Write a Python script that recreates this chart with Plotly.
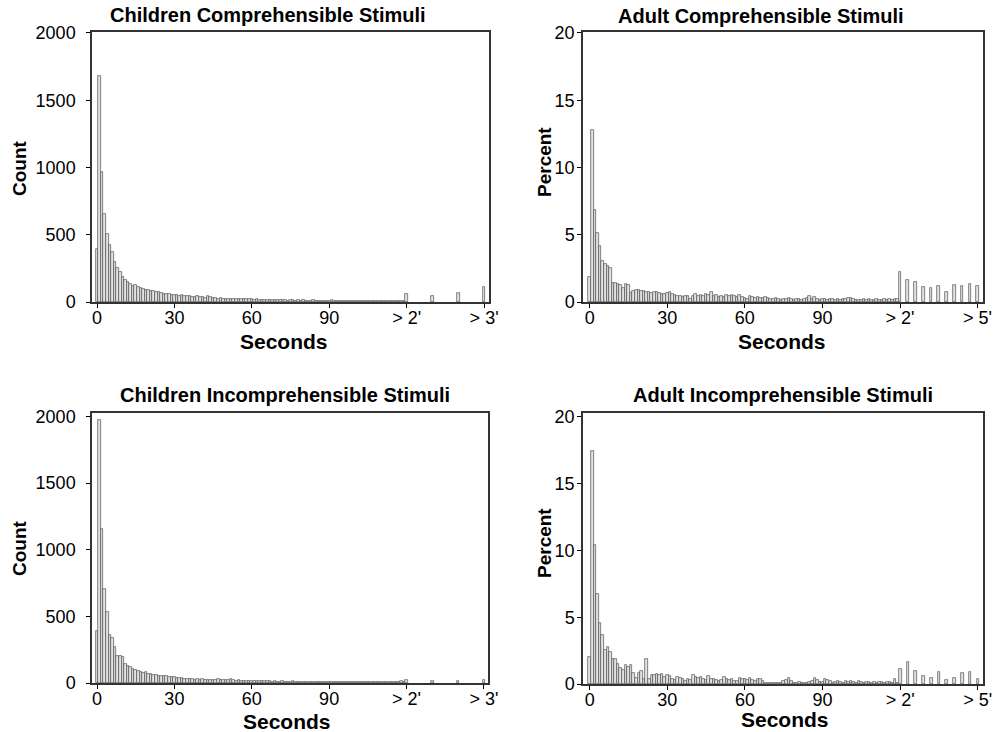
import plotly.graph_objects as go

# ---------------- data ----------------
bins = list(range(0, 120))                     # 1-second bins, 0..119 s
child_tail_bins = [120, 130, 140, 150]          # "> 2'" ... "> 3'"
adult_tail_bins = [120, 123, 126, 129, 132, 135, 138, 141, 144, 147, 150]  # "> 2'" ... "> 5'"

child_tick_text = ["0", "30", "60", "90", "> 2'", "> 3'"]
adult_tick_text = ["0", "30", "60", "90", "> 2'", "> 5'"]
x_tick_vals = [0, 30, 60, 90, 120, 150]

count_ticks = [0, 500, 1000, 1500, 2000]
percent_ticks = [0, 5, 10, 15, 20]

children_comp = [395, 1680, 968, 652, 508, 424, 368, 300, 255, 220,
                 185, 165, 148, 135, 122, 128, 112, 102, 95, 90,
                 88, 82, 80, 72, 75, 66, 62, 58, 60, 55,
                 52, 55, 48, 50, 44, 42, 45, 40, 38, 42,
                 36, 34, 30, 44, 35, 30, 28, 26, 27, 25,
                 24, 26, 22, 23, 21, 24, 20, 22, 19, 21,
                 20, 18, 19, 16, 17, 15, 14, 16, 13, 15,
                 14, 12, 15, 13, 11, 12, 14, 10, 12, 11,
                 13, 10, 11, 9, 12, 10, 9, 11, 8, 10,
                 9, 12, 8, 9, 10, 7, 9, 8, 10, 7,
                 8, 9, 7, 8, 6, 9, 7, 8, 6, 7,
                 8, 6, 7, 5, 7, 6, 8, 5, 6, 7]
children_comp_tail = [57, 48, 65, 112]

adult_comp = [1.86, 12.76, 6.82, 5.12, 4.2, 3.08, 2.8, 2.65, 2.55, 1.39,
              1.44, 1.31, 1.24, 1.07, 1.31, 1.26, 0.69, 0.82, 0.89, 0.87,
              0.82, 0.82, 0.77, 0.74, 0.69, 0.77, 0.71, 0.69, 0.62, 0.62,
              0.69, 0.77, 0.62, 0.55, 0.47, 0.42, 0.37, 0.42, 0.47, 0.25,
              0.45, 0.57, 0.47, 0.55, 0.42, 0.62, 0.5, 0.72, 0.45, 0.5,
              0.38, 0.42, 0.35, 0.52, 0.45, 0.55, 0.48, 0.4, 0.5, 0.35,
              0.3, 0.25, 0.45, 0.4, 0.3, 0.35, 0.28, 0.32, 0.38, 0.3,
              0.25, 0.2, 0.28, 0.22, 0.18, 0.25, 0.2, 0.28, 0.22, 0.15,
              0.2, 0.25, 0.18, 0.22, 0.3, 0.42, 0.2, 0.38, 0.25, 0.15,
              0.2, 0.22, 0.18, 0.25, 0.2, 0.15, 0.22, 0.18, 0.2, 0.25,
              0.3, 0.28, 0.2, 0.15, 0.18, 0.12, 0.2, 0.15, 0.22, 0.18,
              0.15, 0.2, 0.18, 0.15, 0.2, 0.17, 0.2, 0.18, 0.2, 0.22]
adult_comp_tail = [2.23, 1.66, 1.46, 1.12, 1.07, 1.21, 0.72, 1.24, 1.19, 1.31, 1.21]

children_incomp = [387, 1975, 1157, 707, 532, 362, 335, 267, 205, 200,
                   195, 142, 130, 120, 107, 100, 87, 80, 75, 80,
                   70, 67, 60, 60, 55, 52, 50, 50, 45, 42,
                   42, 37, 37, 35, 30, 32, 28, 30, 26, 28,
                   25, 27, 24, 22, 25, 26, 22, 30, 24, 20,
                   22, 25, 28, 20, 18, 19, 17, 18, 16, 15,
                   15, 14, 16, 13, 14, 12, 13, 12, 11, 12,
                   10, 11, 12, 9, 10, 11, 13, 9, 10, 8,
                   9, 10, 8, 9, 7, 10, 8, 7, 9, 8,
                   7, 9, 8, 6, 8, 7, 9, 7, 6, 8,
                   7, 8, 6, 7, 9, 6, 7, 5, 8, 6,
                   7, 6, 5, 7, 6, 8, 5, 6, 12, 7]
children_incomp_tail = [25, 12, 18, 25]

adult_incomp = [2.0, 17.4, 10.4, 6.75, 4.6, 3.7, 2.55, 2.75, 2.4, 1.85,
                1.85, 1.5, 1.2, 1.05, 1.4, 1.3, 1.4, 0.85, 0.45, 0.8,
                0.95, 0.35, 1.87, 0.35, 0.7, 0.7, 0.72, 0.7, 0.72, 0.55,
                0.65, 0.6, 0.4, 0.3, 0.55, 0.45, 0.4, 0.25, 0.35, 0.3,
                0.65, 0.55, 0.45, 0.5, 0.35, 0.3, 0.6, 0.4, 0.35, 0.3,
                0.25, 0.3, 0.5, 0.4, 0.3, 0.35, 0.25, 0.2, 0.45, 0.4,
                0.35, 0.3, 0.45, 0.3, 0.25, 0.4, 0.35, 0.2, 0.08, 0.05,
                0.06, 0.05, 0.08, 0.05, 0.1, 0.2, 0.3, 0.45, 0.2, 0.1,
                0.1, 0.15, 0.1, 0.05, 0.1, 0.15, 0.2, 0.45, 0.3, 0.15,
                0.15, 0.35, 0.3, 0.2, 0.1, 0.15, 0.2, 0.15, 0.1, 0.2,
                0.15, 0.2, 0.12, 0.1, 0.2, 0.15, 0.1, 0.12, 0.15, 0.1,
                0.12, 0.1, 0.15, 0.12, 0.1, 0.12, 0.15, 0.1, 0.35, 0.1]
adult_incomp_tail = [1.12, 1.67, 0.95, 0.6, 0.45, 0.88, 0.32, 0.45, 0.82, 0.9, 0.37]

titles = ["Children Comprehensible Stimuli", "Adult Comprehensible Stimuli",
          "Children Incomprehensible Stimuli", "Adult Incomprehensible Stimuli"]

# ---------------- figure ----------------
W, H = 997, 732
FONT = "Liberation Sans, Arial, sans-serif"
BAR_FILL = "#e2e2e2"
BAR_LINE = "#505050"
FRAME = "#333333"

def px_x(p):
    return p / W

def px_y(p):
    return 1 - p / H

panels = [
    dict(main=children_comp, tb=child_tail_bins, tail=children_comp_tail, tt=child_tick_text,
         yt=count_ticks, yr=[0, 2007], xr=[-1.94, 151.9], xd=(92, 489), yd=(32, 302), stand=7),
    dict(main=adult_comp, tb=adult_tail_bins, tail=adult_comp_tail, tt=adult_tick_text,
         yt=percent_ticks, yr=[0, 20.07], xr=[-2.6, 152.1], xd=(583, 983), yd=(32, 302), stand=-1),
    dict(main=children_incomp, tb=child_tail_bins, tail=children_incomp_tail, tt=child_tick_text,
         yt=count_ticks, yr=[0, 2025], xr=[-1.94, 151.6], xd=(92, 488), yd=(413, 683), stand=7),
    dict(main=adult_incomp, tb=adult_tail_bins, tail=adult_incomp_tail, tt=adult_tick_text,
         yt=percent_ticks, yr=[0, 20.28], xr=[-2.6, 152.0], xd=(583, 983), yd=(413, 684), stand=-1),
]

fig = go.Figure()
layout = dict(
    width=W, height=H,
    margin=dict(l=0, r=0, t=0, b=0, autoexpand=False),
    paper_bgcolor="white", plot_bgcolor="white",
    showlegend=False, hovermode=False,
    font=dict(family=FONT, color="black"),
    bargap=0,
)

for i, p in enumerate(panels):
    n = "" if i == 0 else str(i + 1)
    xs = bins + p["tb"]
    ys = p["main"] + p["tail"]
    fig.add_trace(go.Bar(
        x=xs, y=ys, width=1.0,
        marker=dict(color=BAR_FILL, line=dict(color=BAR_LINE, width=0.7)),
        xaxis="x" + n, yaxis="y" + n,
    ))
    layout["xaxis" + n] = dict(
        domain=[px_x(p["xd"][0]), px_x(p["xd"][1])],
        range=p["xr"], anchor="y" + n, automargin=False,
        tickmode="array", tickvals=x_tick_vals, ticktext=p["tt"],
        ticks="outside", ticklen=4, tickwidth=1, tickcolor="black",
        showline=True, linecolor=FRAME, linewidth=1.5, mirror=True,
        showgrid=False, zeroline=False,
        tickfont=dict(size=18, family=FONT, color="black"),
        ticklabelstandoff=-5,
    )
    layout["yaxis" + n] = dict(
        domain=[px_y(p["yd"][1]), px_y(p["yd"][0])],
        range=p["yr"], anchor="x" + n, automargin=False,
        tickmode="array", tickvals=p["yt"],
        ticks="outside", ticklen=4, tickwidth=1, tickcolor="black",
        showline=True, linecolor=FRAME, linewidth=1.5, mirror=True,
        showgrid=False, zeroline=False,
        tickfont=dict(size=18, family=FONT, color="black"),
        ticklabelstandoff=p["stand"],
    )

annotations = []
title_pos = [(268, 15), (761, 16), (285, 395), (783, 395)]
for t, (x, y) in zip(titles, title_pos):
    annotations.append(dict(text="<b>" + t + "</b>", x=px_x(x), y=px_y(y), xref="paper", yref="paper",
                            showarrow=False, xanchor="center", yanchor="middle",
                            font=dict(size=20, family=FONT, color="black")))

sec_pos = [(284, 341), (782, 341), (287, 721), (785, 719)]
for (x, y) in sec_pos:
    annotations.append(dict(text="<b>Seconds</b>", x=px_x(x), y=px_y(y), xref="paper", yref="paper",
                            showarrow=False, xanchor="center", yanchor="middle",
                            font=dict(size=21, family=FONT, color="black")))

ylab = [("Count", 19, 168), ("Percent", 544, 162), ("Count", 19, 548), ("Percent", 544, 543)]
for (t, x, y) in ylab:
    annotations.append(dict(text="<b>" + t + "</b>", x=px_x(x), y=px_y(y), xref="paper", yref="paper",
                            showarrow=False, xanchor="center", yanchor="middle", textangle=-90,
                            font=dict(size=19, family=FONT, color="black")))

layout["annotations"] = annotations
fig.update_layout(**layout)

fig.write_html("out.html", config={"displayModeBar": False},
               post_script="document.body.style.margin='0';document.body.style.overflow='hidden';")
